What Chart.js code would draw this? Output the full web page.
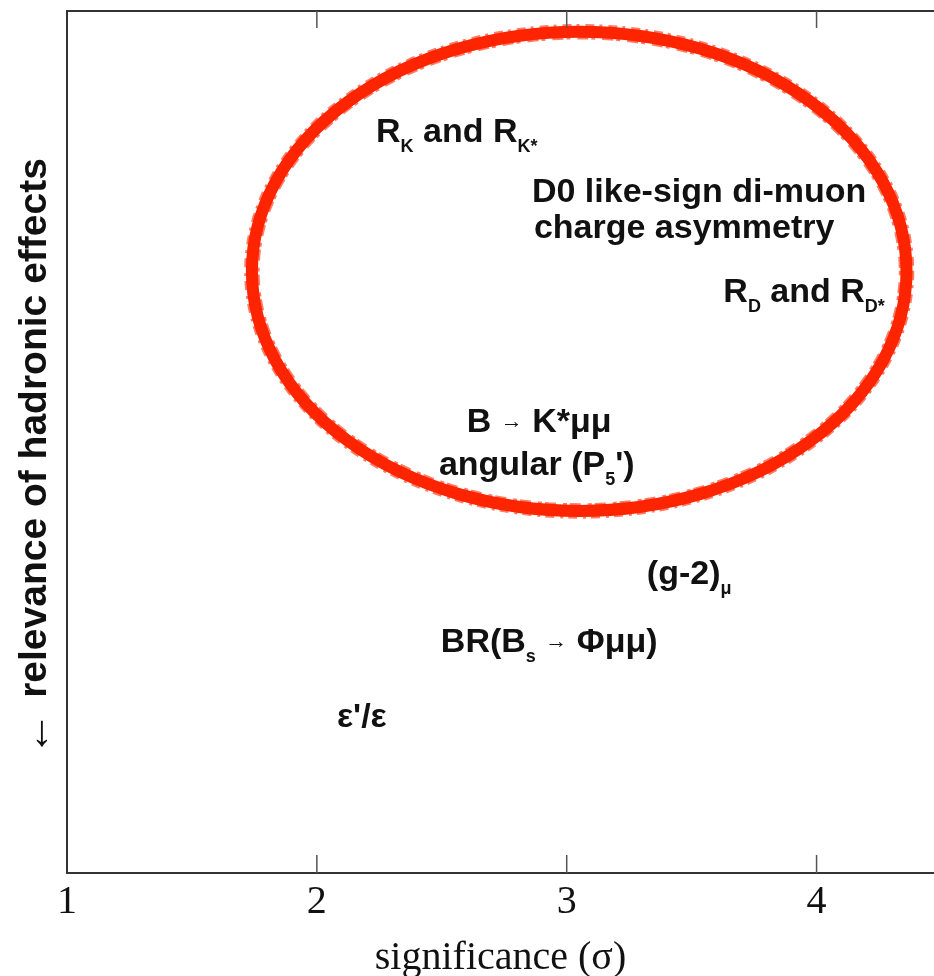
<!DOCTYPE html>
<html lang="en">
<head>
<meta charset="UTF-8">
<title>Hadronic effects vs significance</title>
<script src="https://cdn.jsdelivr.net/npm/chart.js"></script>
<style>
  html, body { margin: 0; padding: 0; background: #fff; }
  #wrap { width: 934px; height: 976px; position: relative; }
</style>
</head>
<body>
<div id="wrap"><canvas id="myChart"></canvas></div>
<script>
// x axis: significance in sigma
const xTicks = [1, 2, 3, 4];
const xMin = 1, xMax = 4.47;
// y axis: relevance of hadronic effects (no units, no ticks)
const yMin = 0, yMax = 10;

// anomaly labels, "_{..}" is a subscript
const labelTexts = [
    'R_{K} and R_{K*}',
    'D0 like-sign di-muon',
    'charge asymmetry',
    'R_{D} and R_{D*}',
    'B → K*μμ',
    "angular (P_{5}')",
    '(g-2)_{μ}',
    'BR(B_{s} → Φμμ)',
    "ε'/ε"
];
const labelX = [2.56, 3.53, 3.47, 3.95, 2.89, 2.88, 3.49, 2.93, 2.18];
const labelY = [8.62, 7.92, 7.51, 6.76, 5.26, 4.76, 3.49, 2.70, 1.83];

// red ring around the flavour anomalies (center and half widths, data units)
const ringCenter = [3.05, 6.98];
const ringRadius = [1.31, 2.78];

const yTitle = 'relevance of hadronic effects';

const SANS = '"Liberation Sans", Arial, sans-serif';
const SERIF = '"Liberation Serif", "Times New Roman", serif';

// split "R_{K} and" into normal/subscript pieces
function splitSub(txt) {
    const parts = [];
    const re = /_\{([^}]*)\}/g;
    let last = 0, m;
    while ((m = re.exec(txt)) !== null) {
        if (m.index > last) parts.push({ t: txt.slice(last, m.index), sub: false });
        parts.push({ t: m[1], sub: true });
        last = re.lastIndex;
    }
    if (last < txt.length) parts.push({ t: txt.slice(last), sub: false });
    // arrows are drawn thin and small
    const out = [];
    parts.forEach(p => {
        p.t.split(/(→)/).forEach(s => {
            if (s === '') return;
            out.push({ t: s, sub: p.sub, arrow: s === '→' });
        });
    });
    return out;
}

function pieceFont(p) {
    if (p.arrow) return '400 22px ' + SANS;
    if (p.sub) return '700 18px ' + SANS;
    return '700 34px ' + SANS;
}

const ringPlugin = {
    id: 'ring',
    afterDatasetsDraw(chart) {
        const { ctx, scales: { x, y } } = chart;
        const cx = x.getPixelForValue(ringCenter[0]);
        const cy = y.getPixelForValue(ringCenter[1]);
        const rx = x.getPixelForValue(ringCenter[0] + ringRadius[0]) - cx;
        const ry = cy - y.getPixelForValue(ringCenter[1] + ringRadius[1]);
        ctx.save();
        ctx.strokeStyle = '#ff2400';
        ctx.lineWidth = 12;
        ctx.beginPath();
        ctx.ellipse(cx, cy, rx, ry, 0, 0, Math.PI * 2);
        ctx.stroke();
        // ragged marker edge
        ctx.lineWidth = 2.5;
        ctx.globalAlpha = 0.6;
        ctx.setLineDash([9, 5, 3, 6]);
        ctx.beginPath();
        ctx.ellipse(cx, cy, rx + 6.5, ry + 6.5, 0, 0, Math.PI * 2);
        ctx.stroke();
        ctx.setLineDash([4, 7, 11, 3]);
        ctx.beginPath();
        ctx.ellipse(cx, cy, rx - 6.5, ry - 6.5, 0, 0, Math.PI * 2);
        ctx.stroke();
        ctx.restore();
    }
};

const labelPlugin = {
    id: 'labels',
    afterDatasetsDraw(chart) {
        const ctx = chart.ctx;
        const meta = chart.getDatasetMeta(0);
        ctx.save();
        ctx.fillStyle = '#111';
        ctx.textBaseline = 'alphabetic';
        meta.data.forEach((pt, i) => {
            const pieces = splitSub(labelTexts[i]);
            let w = 0;
            pieces.forEach(p => { ctx.font = pieceFont(p); p.w = ctx.measureText(p.t).width; w += p.w; });
            let px = pt.x - w / 2;
            const base = pt.y + 12;
            pieces.forEach(p => {
                ctx.font = pieceFont(p);
                const dy = p.sub ? 10 : (p.arrow ? -4 : 0);
                ctx.fillText(p.t, px, base + dy);
                px += p.w;
            });
        });
        ctx.restore();
    }
};

const framePlugin = {
    id: 'frame',
    afterDraw(chart) {
        const { ctx, chartArea: a, scales: { x } } = chart;
        ctx.save();
        ctx.strokeStyle = '#333';
        ctx.lineWidth = 2;
        ctx.beginPath();
        ctx.moveTo(a.left, a.top);
        ctx.lineTo(a.right, a.top);
        ctx.stroke();
        // inward ticks on top and bottom
        ctx.strokeStyle = '#555';
        ctx.lineWidth = 1.5;
        xTicks.slice(1).forEach(v => {
            const px = x.getPixelForValue(v);
            ctx.beginPath();
            ctx.moveTo(px, a.bottom);
            ctx.lineTo(px, a.bottom - 18);
            ctx.moveTo(px, a.top);
            ctx.lineTo(px, a.top + 17);
            ctx.stroke();
        });
        // rotated y title with a down arrow at its start
        const mid = (a.top + a.bottom) / 2 + 15;
        ctx.fillStyle = '#111';
        ctx.textBaseline = 'middle';
        ctx.font = '700 39px ' + SANS;
        const tw = ctx.measureText(yTitle).width;
        ctx.font = '400 44px ' + SANS;
        const aw = ctx.measureText('←').width;
        const gap = 14;
        const total = aw + gap + tw;
        ctx.translate(35, mid + total / 2);
        ctx.rotate(-Math.PI / 2);
        ctx.fillText('←', 0, 2);
        ctx.font = '700 39px ' + SANS;
        ctx.fillText(yTitle, aw + gap, 0);
        ctx.restore();
    }
};

new Chart(document.getElementById('myChart'), {
    type: 'scatter',
    data: {
        datasets: [{
            data: labelX.map((v, i) => ({ x: v, y: labelY[i] })),
            pointRadius: 0,
            showLine: false
        }]
    },
    options: {
        responsive: true,
        maintainAspectRatio: false,
        animation: false,
        events: [],
        layout: { padding: { left: 67, top: 11, right: 0, bottom: -2 } },
        plugins: { legend: { display: false }, tooltip: { enabled: false } },
        scales: {
            x: {
                type: 'linear',
                min: xMin,
                max: xMax,
                afterBuildTicks: s => { s.ticks = xTicks.map(v => ({ value: v })); },
                grid: { display: false, drawTicks: false },
                border: { display: true, color: '#333', width: 2 },
                ticks: { color: '#111', font: { family: SERIF, size: 40, lineHeight: 1 }, padding: 9, maxRotation: 0 },
                title: { display: true, text: 'significance (σ)', color: '#111', font: { family: SERIF, size: 40, lineHeight: 1 }, padding: { top: 7, bottom: 0 } }
            },
            y: {
                type: 'linear',
                min: yMin,
                max: yMax,
                grid: { display: false, drawTicks: false },
                border: { display: true, color: '#333', width: 2 },
                ticks: { display: false },
                title: { display: false }
            }
        }
    },
    plugins: [ringPlugin, labelPlugin, framePlugin]
});
</script>
</body>
</html>
